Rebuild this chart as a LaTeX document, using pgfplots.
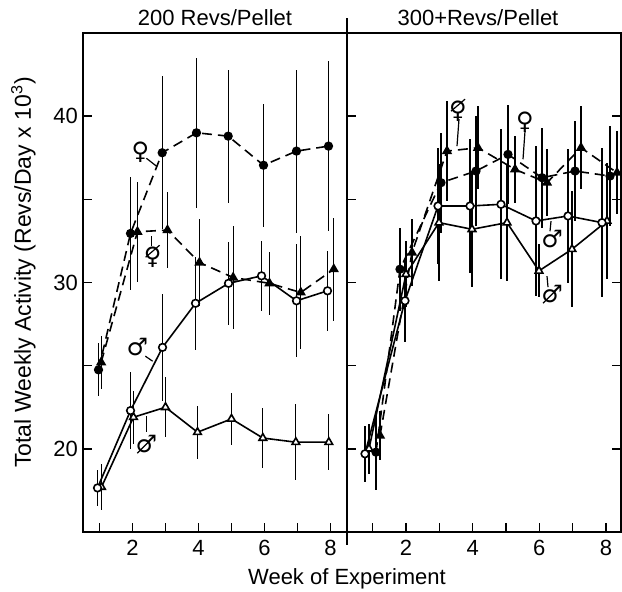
\documentclass[border=0pt]{standalone}
\usepackage{fontspec}
\setmainfont{Liberation Sans}
\newfontfamily\symf{DejaVu Sans}
\usepackage{pgfplots}
\pgfplotsset{compat=1.18}

\newcommand{\fem}{\char"2640}
\newcommand{\mal}{\char"2642}

\pgfplotstableread{
x y e
0.97 24.75 1.6
1.94 32.95 3.4
2.90 37.8 4.6
3.94 39.0 4.5
4.90 38.8 4.0
5.97 37.05 3.7
6.97 37.9 4.9
7.94 38.2 5.1
}\LFa
\pgfplotstableread{
x y e
1.05 25.2 1.6
2.15 33.05 3.0
3.06 33.15 2.3
4.03 31.2 2.6
5.05 30.3 3.1
6.15 29.95 1.9
7.10 29.4 3.4
8.10 30.8 3.1
}\LFb
\pgfplotstableread{
x y e
0.94 17.65 1.1
1.94 22.3 2.3
2.91 26.1 3.2
3.91 28.75 2.8
4.91 29.95 2.5
5.91 30.4 2.1
6.97 28.9 3.4
7.91 29.5 2.4
}\LMa
\pgfplotstableread{
x y e
1.06 17.7 1.4
2.03 21.9 1.6
3.00 22.5 1.8
3.97 21.0 1.6
5.00 21.8 1.55
5.95 20.65 1.8
6.95 20.4 2.3
7.95 20.4 1.7
}\LMb
\pgfplotstableread{
x y e
1.10 19.8 2.3
1.82 30.8 2.5
3.05 36.0 3.0
4.10 36.7 3.3
5.06 37.7 3.0
6.08 36.3 3.0
7.07 36.7 3.0
8.12 36.4 3.0
}\RFa
\pgfplotstableread{
x y e
1.22 20.8 1.5
2.18 31.8 2.0
3.23 37.9 3.0
4.16 38.1 2.5
5.27 36.8 2.0
6.23 36.0 2.0
7.25 38.1 2.5
8.33 36.6 2.5
}\RFb
\pgfplotstableread{
x y e
0.77 19.7 1.7
1.97 28.9 2.5
2.96 34.6 3.5
3.92 34.6 4.0
4.85 34.7 4.5
5.90 33.7 4.5
6.86 34.0 4.0
7.88 33.6 4.5
}\RMa
\pgfplotstableread{
x y e
0.89 20.0 1.5
2.00 30.5 2.0
2.99 33.6 3.5
3.98 33.2 3.5
5.03 33.6 3.5
5.99 30.7 1.6
6.98 32.0 3.5
8.03 33.7 3.5
}\RMb

\tikzset{sym/.style={font=\symf\fontsize{12}{12}\selectfont, inner sep=0pt}}
\pgfplotsset{
  panel/.style={
    scale only axis, height=249.5pt, ymin=15, ymax=45,
    anchor=south west,
    tick align=inside, major tick length=4.5pt,
    axis line style={line width=1pt},
    every tick/.style={black, line width=0.8pt},
    /pgf/number format/assume math mode=true,
    tick label style={font=\fontsize{11}{13}\selectfont},
    xtick={1,...,8}, xticklabels={,2,,4,,6,,8},
    xticklabel style={anchor=base, yshift=-11.5pt},
    ytick={20,25,30,35,40},
    clip=false,
  },
  errs/.style={error bars/.cd, y dir=both, y explicit, error mark=none,
    error bar style={solid, line width=0.6pt}},
  fa/.style={black, line width=0.8pt, dash pattern=on 5pt off 3pt, mark=*, mark size=1.9pt, mark options={solid, fill=black}, errs},
  fb/.style={black, line width=0.8pt, dash pattern=on 5pt off 3pt, mark=triangle*, mark size=2.2pt, mark options={solid, fill=black}, errs},
  ma/.style={black, line width=0.8pt, mark=*, mark size=1.9pt, mark options={solid, fill=white}, errs},
  mb/.style={black, line width=0.8pt, mark=triangle*, mark size=2.2pt, mark options={solid, fill=white}, errs},
}

\begin{document}
\begin{tikzpicture}
\useasboundingbox (0,0) rectangle (311pt,295.5pt);
\begin{axis}[panel, at={(41.5pt,29.5pt)}, width=132pt, xmin=0.5, xmax=8.5,
  ytick pos=left, xtick pos=bottom, yticklabels={20,,30,,40},
  yticklabel style={xshift=1pt}]
\addplot[fb] table[x=x,y=y,y error=e] {\LFb};
\addplot[fa] table[x=x,y=y,y error=e] {\LFa};
\addplot[mb] table[x=x,y=y,y error=e] {\LMb};
\addplot[ma] table[x=x,y=y,y error=e] {\LMa};
% divider extension
\draw[line width=1pt] (rel axis cs:1,-0.026) -- (rel axis cs:1,1.03);
% labels
\node[anchor=base, font=\fontsize{11}{13}\selectfont] at ([yshift=4pt]rel axis cs:0.5,1) {200 Revs/Pellet};
\node[anchor=base, font=\fontsize{11}{13}\selectfont] at ([yshift=-26pt]rel axis cs:1,0) {Week of Experiment};
\node[anchor=base, rotate=90, font=\fontsize{11.5}{13}\selectfont] at ([xshift=-26pt]rel axis cs:0,0.52) {Total Weekly Activity (Revs/Day x 10\textsuperscript{3})};
% annotations
\node[sym] (a1) at (axis cs:2.24,37.84) {\fem};
\draw[line width=0.6pt] (axis cs:2.42,37.47) -- (axis cs:2.73,36.99);
\node[sym] (a2) at (axis cs:2.61,31.52) {\fem};
\draw[line width=0.6pt] ([shift={(-3.5pt,0pt)}]a2.center) -- ([shift={(3.5pt,6pt)}]a2.center);
\draw[line width=0.6pt] (axis cs:2.58,32.78) -- (axis cs:2.58,32.18);
\node[sym] (a3) at (axis cs:2.15,26.11) {\mal};
\draw[line width=0.6pt] (axis cs:2.39,25.57) -- (axis cs:2.61,25.27);
\node[sym] (a4) at (axis cs:2.42,20.28) {\mal};
\draw[line width=0.6pt] ([shift={(-4.5pt,-4.5pt)}]a4.center) -- ([shift={(2pt,2pt)}]a4.center);
\draw[line width=0.6pt] (axis cs:2.42,21.96) -- (axis cs:2.42,21.0);
\end{axis}
\begin{axis}[panel, at={(173.5pt,29.5pt)}, width=137pt, xmin=0.23, xmax=8.45,
  ytick pos=both, xtick pos=bottom, yticklabels={}]
\addplot[fb] table[x=x,y=y,y error=e] {\RFb};
\addplot[fa] table[x=x,y=y,y error=e] {\RFa};
\addplot[mb] table[x=x,y=y,y error=e] {\RMb};
\addplot[ma] table[x=x,y=y,y error=e] {\RMa};
\node[anchor=base, font=\fontsize{11}{13}\selectfont] at ([yshift=4pt]rel axis cs:0.478,1) {300+Revs/Pellet};
\node[sym] (b1) at (axis cs:3.56,40.3) {\fem};
\draw[line width=0.6pt] ([shift={(-3.5pt,0pt)}]b1.center) -- ([shift={(3.5pt,6pt)}]b1.center);
\draw[line width=0.6pt] (axis cs:3.59,39.82) -- (axis cs:3.53,38.2);
\node[sym] (b2) at (axis cs:5.57,39.64) {\fem};
\draw[line width=0.6pt] (axis cs:5.57,39.1) -- (axis cs:5.51,37.41);
\node[sym] (b3) at (axis cs:6.38,32.6) {\mal};
\draw[line width=0.6pt] (axis cs:6.35,33.69) -- (axis cs:6.32,33.08);
\node[sym] (b4) at (axis cs:6.38,29.3) {\mal};
\draw[line width=0.6pt] ([shift={(-4.5pt,-4.5pt)}]b4.center) -- ([shift={(2pt,2pt)}]b4.center);
\draw[line width=0.6pt] (axis cs:6.23,30.38) -- (axis cs:6.26,29.72);
\end{axis}
\end{tikzpicture}
\end{document}
